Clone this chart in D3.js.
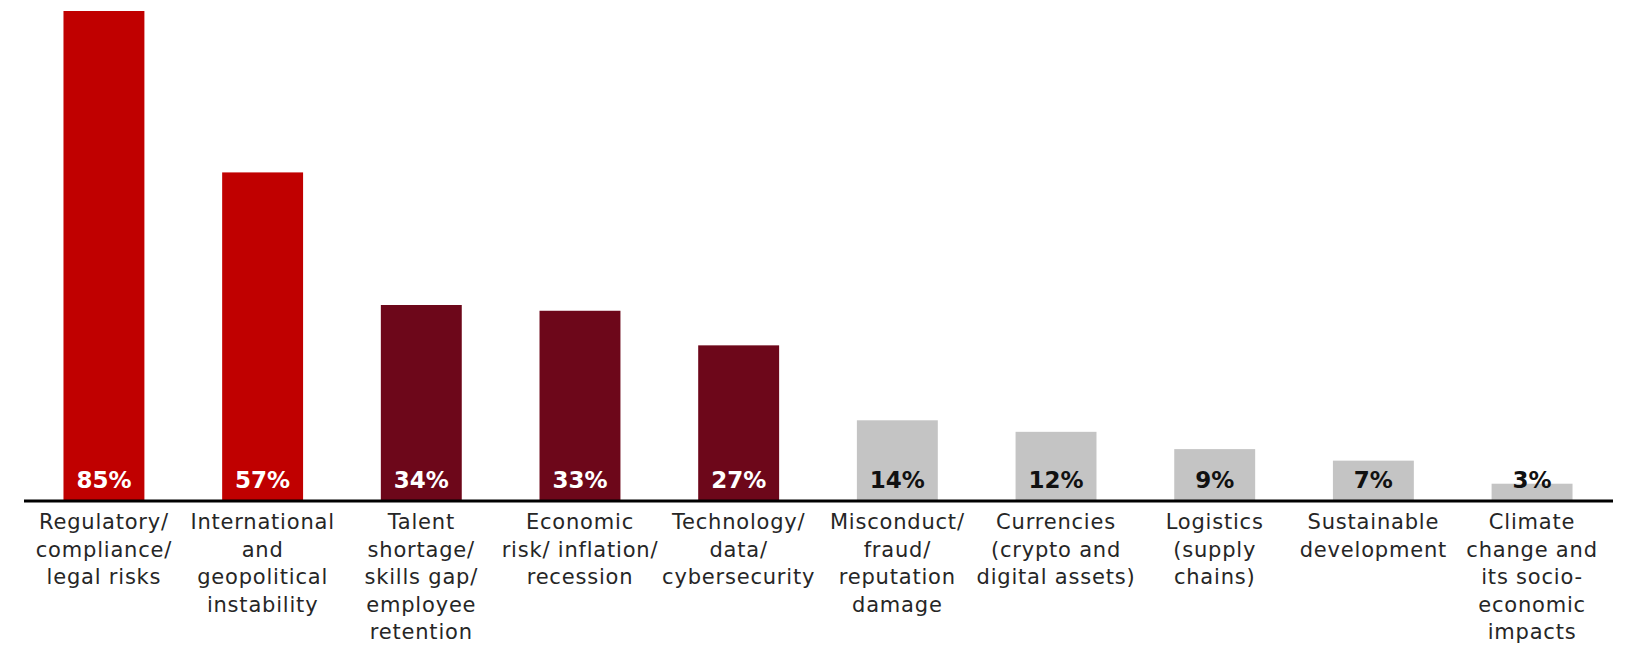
<!DOCTYPE html>
<html>
<head>
<meta charset="utf-8">
<script src="https://cdn.jsdelivr.net/npm/d3@7"></script>
<style>
  html, body { margin: 0; padding: 0; background: #fff; }
  svg { display: block; }
</style>
</head>
<body>
<svg id="chart" width="1634" height="645"></svg>
<script>
// Risk categories (each entry is the list of wrapped label lines)
const categories = [
  ["Regulatory/", "compliance/", "legal risks"],
  ["International", "and", "geopolitical", "instability"],
  ["Talent", "shortage/", "skills gap/", "employee", "retention"],
  ["Economic", "risk/ inflation/", "recession"],
  ["Technology/", "data/", "cybersecurity"],
  ["Misconduct/", "fraud/", "reputation", "damage"],
  ["Currencies", "(crypto and", "digital assets)"],
  ["Logistics", "(supply", "chains)"],
  ["Sustainable", "development"],
  ["Climate", "change and", "its socio-", "economic", "impacts"]
];
// Share of respondents (%)
const values = [85, 57, 34, 33, 27, 14, 12, 9, 7, 3];
// Tier of each category: 0 = top, 1 = middle, 2 = lower
const tiers = [0, 0, 1, 1, 1, 2, 2, 2, 2, 2];
const tierColors = ["#C00000", "#6D071A", "#C4C4C4"];
const labelColors = ["#FFFFFF", "#FFFFFF", "#111111"];

const svg = d3.select("#chart");
const baseY = 501;

const x = d3.scaleBand()
  .domain(d3.range(values.length))
  .range([24.6, 1611.4])
  .paddingInner(0.49)
  .paddingOuter(0.245);

const y = d3.scaleLinear()
  .domain([0, 85])
  .range([baseY, 11]);

// Bars
svg.append("g")
  .selectAll("rect")
  .data(values)
  .join("rect")
  .attr("x", (d, i) => x(i))
  .attr("y", d => y(d))
  .attr("width", x.bandwidth())
  .attr("height", d => baseY - y(d))
  .attr("fill", (d, i) => tierColors[tiers[i]]);

// Value labels sitting at the foot of each bar
svg.append("g")
  .selectAll("text")
  .data(values)
  .join("text")
  .attr("x", (d, i) => x(i) + x.bandwidth() / 2)
  .attr("y", 488)
  .attr("text-anchor", "middle")
  .attr("font-family", "'DejaVu Sans', sans-serif")
  .attr("font-weight", "bold")
  .attr("font-size", 23)
  .attr("fill", (d, i) => labelColors[tiers[i]])
  .text(d => d + "%");

// Baseline axis
const axis = d3.axisBottom(x).tickSize(0).tickFormat("");
const axisG = svg.append("g")
  .attr("transform", `translate(0,${baseY})`)
  .call(axis);
axisG.select(".domain")
  .attr("stroke", "#000")
  .attr("stroke-width", 3)
  .attr("d", "M24,0H1613");

// Category labels
const labelG = svg.append("g")
  .attr("font-family", "'DejaVu Sans', sans-serif")
  .attr("font-size", 21)
  .attr("letter-spacing", 0.8)
  .attr("fill", "#262626")
  .attr("text-anchor", "middle");

labelG.selectAll("text")
  .data(categories)
  .join("text")
  .attr("x", (d, i) => x(i) + x.bandwidth() / 2)
  .attr("y", 529)
  .each(function(lines) {
    const t = d3.select(this);
    lines.forEach((ln, k) => {
      t.append("tspan")
        .attr("x", t.attr("x"))
        .attr("y", 529 + k * 27.5)
        .text(ln);
    });
  });
</script>
</body>
</html>
